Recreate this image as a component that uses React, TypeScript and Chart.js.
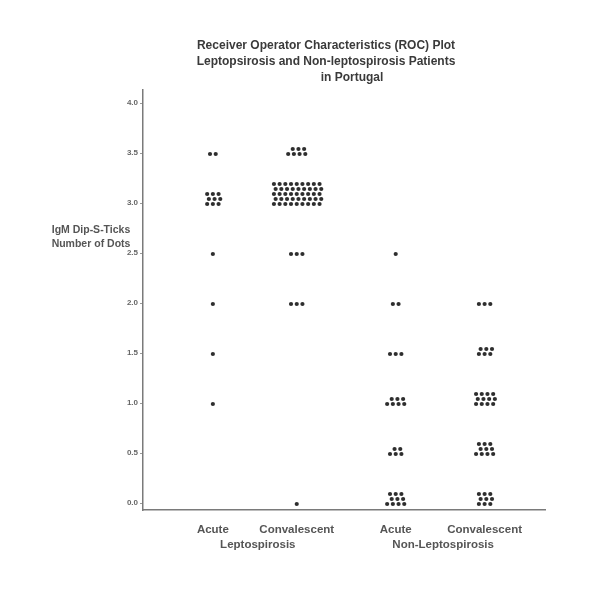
import React, { useEffect, useRef } from "react";
import { Chart, registerables } from "chart.js";
Chart.register(...registerables);

const titleLines = [
  "Receiver Operator Characteristics (ROC) Plot",
  "Leptopsirosis and Non-leptospirosis Patients",
  "in Portugal",
];
const yTitleLines = ["IgM Dip-S-Ticks", "Number of Dots"];
const categories = ["Acute", "Convalescent", "Acute", "Convalescent"];
const groups = ["Leptospirosis", "Non-Leptospirosis"];
const categoryPositions = [1, 2, 3.18, 4.24];
const yTicks = [0, 0.5, 1, 1.5, 2, 2.5, 3, 3.5, 4];

// number of patients at each dot level (0.0 … 4.0)
const levels = [0, 0.5, 1, 1.5, 2, 2.5, 3, 3.5, 4];
const acuteLepto = [0, 0, 1, 1, 1, 1, 9, 2, 0];
const convLepto = [1, 0, 0, 0, 3, 3, 45, 7, 0];
const acuteNonLepto = [10, 5, 7, 3, 2, 1, 0, 0, 0];
const convNonLepto = [9, 10, 12, 6, 3, 0, 0, 0, 0];

const seriesCounts = [acuteLepto, convLepto, acuteNonLepto, convNonLepto];

const FONT = "'Liberation Sans', Arial, sans-serif";

// dot-plot stacking of the counted patients around each level
function dotStack(pos: number, counts: number[]) {
  const pts: { x: number; y: number }[] = [];
  const dx = 0.068;
  const dy = 0.05;
  counts.forEach((n, i) => {
    if (!n) return;
    const perRow = Math.max(1, Math.ceil(Math.sqrt(n * 1.6)));
    const rows = Math.ceil(n / perRow);
    for (let r = 0; r < rows; r++) {
      const k = Math.floor(n / rows) + (r < n % rows ? 1 : 0);
      for (let j = 0; j < k; j++) {
        pts.push({
          x: pos + (j - (k - 1) / 2) * dx + (r % 2 ? dx * 0.3 : 0),
          y: levels[i] - 0.01 + r * dy,
        });
      }
    }
  });
  return pts;
}

const textPlugin = {
  id: "textPlugin",
  afterDraw(chart: any) {
    const ctx = chart.ctx;
    const xs = chart.scales.x;
    ctx.save();
    ctx.fillStyle = "#3a3a3a";
    ctx.textBaseline = "middle";
    ctx.textAlign = "center";
    ctx.font = `bold 12px ${FONT}`;
    const tx = [326, 326, 352];
    const ty = [46, 62, 78];
    titleLines.forEach((t, i) => ctx.fillText(t, tx[i], ty[i]));

    ctx.font = `bold 10.5px ${FONT}`;
    ctx.fillStyle = "#555";
    ctx.fillText(yTitleLines[0], 91, 230);
    ctx.fillText(yTitleLines[1], 91, 244);

    ctx.font = `bold 11.5px ${FONT}`;
    categories.forEach((c, i) => {
      ctx.fillText(c, xs.getPixelForValue(categoryPositions[i]), 530);
    });
    groups.forEach((g, gi) => {
      const a = xs.getPixelForValue(categoryPositions[gi * 2]);
      const b = xs.getPixelForValue(categoryPositions[gi * 2 + 1]);
      ctx.fillText(g, (a + b) / 2 + 3, 545);
    });
    ctx.restore();
  },
};

export default function App() {
  const ref = useRef<HTMLCanvasElement>(null);
  useEffect(() => {
    document.body.style.margin = "0";
    const chart = new Chart(ref.current!, {
      type: "scatter",
      data: {
        datasets: seriesCounts.map((counts, i) => ({
          label: categories[i],
          data: dotStack(categoryPositions[i], counts),
          pointRadius: 2.1,
          pointHoverRadius: 2.1,
          backgroundColor: "#2e2e2e",
          borderWidth: 0,
        })),
      },
      options: {
        animation: false,
        responsive: false,
        devicePixelRatio: 1,
        layout: { padding: { left: 113, right: 57, top: 90, bottom: 88 } },
        plugins: {
          legend: { display: false },
          tooltip: { enabled: false },
          title: { display: false },
        },
        scales: {
          x: {
            type: "linear",
            min: 0.167,
            max: 4.96,
            ticks: { display: false },
            grid: { display: false },
            border: { display: true, color: "#7a7a7a", width: 1.5 },
            afterFit: (s: any) => {
              s.height = 0;
            },
          },
          y: {
            type: "linear",
            min: -0.07,
            max: 4.13,
            afterBuildTicks: (s: any) => {
              s.ticks = yTicks.map((v) => ({ value: v }));
            },
            ticks: {
              callback: (v: any) => Number(v).toFixed(1),
              font: { family: FONT, size: 8, weight: "bold" },
              color: "#666",
              padding: 2,
            },
            grid: {
              display: true,
              drawOnChartArea: false,
              drawTicks: true,
              tickLength: 3,
              color: "#999",
            },
            border: { display: true, color: "#7a7a7a", width: 1.5 },
            afterFit: (s: any) => {
              s.width = 30;
            },
          },
        },
      },
      plugins: [textPlugin],
    } as any);
    return () => chart.destroy();
  }, []);
  return (
    <div style={{ position: "absolute", left: 0, top: 0, width: 602, height: 598, background: "#fff" }}>
      <canvas ref={ref} width={602} height={598} style={{ display: "block" }} />
    </div>
  );
}
